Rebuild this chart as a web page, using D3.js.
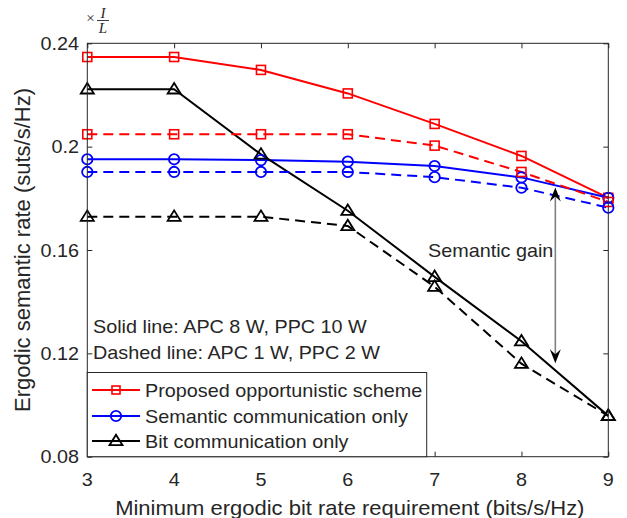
<!DOCTYPE html>
<html><head><meta charset="utf-8">
<script src="https://cdn.jsdelivr.net/npm/d3@7"></script>
<style>body{margin:0;background:#fff}</style>
</head><body><svg id="c" width="627" height="518"></svg>
<script>
// ---- data ----
const xValues = [3, 4, 5, 6, 7, 8, 9];
const proposedSolid  = [0.2347, 0.2347, 0.2297, 0.2206, 0.2088, 0.1964, 0.1802];
const proposedDashed = [0.2048, 0.2048, 0.2048, 0.2048, 0.2004, 0.1902, 0.1786];
const semanticSolid  = [0.1951, 0.1951, 0.1948, 0.1942, 0.1925, 0.1881, 0.1802];
const semanticDashed = [0.1902, 0.1902, 0.1902, 0.1902, 0.1882, 0.1841, 0.1764];
const bitSolid       = [0.2222, 0.2222, 0.1970, 0.1752, 0.1496, 0.1247, 0.0958];
const bitDashed      = [0.1729, 0.1729, 0.1729, 0.1693, 0.1458, 0.1160, 0.0958];
const xTicks = [3, 4, 5, 6, 7, 8, 9];
const yTicks = [0.08, 0.12, 0.16, 0.2, 0.24];
const yTickLabels = ["0.08", "0.12", "0.16", "0.2", "0.24"];
const legendLabels = ["Proposed opportunistic scheme", "Semantic communication only", "Bit communication only"];
const noteLines = ["Solid line: APC 8 W, PPC 10 W", "Dashed line: APC 1 W, PPC 2 W"];
const gainLabel = "Semantic gain";
const gainX = 8.39, gainTop = 0.1842, gainBottom = 0.1162;
const xLabel = "Minimum ergodic bit rate requirement (bits/s/Hz)";
const yLabel = "Ergodic semantic rate (suts/s/Hz)";

// ---- layout ----
const L = 87.3, R = 608.3, T = 43.3, B = 456.7;
const svg = d3.select("#c");
const x = d3.scaleLinear().domain([3, 9]).range([L, R]);
const y = d3.scaleLinear().domain([0.08, 0.24]).range([B, T]);
const FONT = "'Liberation Sans', Arial, Helvetica, sans-serif";
const TXT = "#262626";
const SX = 1.1;

function addText(g, px, py, str, size, anchor) {
  return g.append("text")
    .attr("transform", `translate(${px},${py}) scale(${SX},1)`)
    .attr("font-family", FONT).attr("font-size", size)
    .attr("fill", TXT).attr("text-anchor", anchor || "start")
    .text(str);
}

const series = [
  {vals: proposedSolid,  color: "#ff0000", marker: "square",   dash: null},
  {vals: semanticSolid,  color: "#0000ff", marker: "circle",   dash: null},
  {vals: bitSolid,       color: "#000000", marker: "triangle", dash: null},
  {vals: proposedDashed, color: "#ff0000", marker: "square",   dash: "10,6"},
  {vals: semanticDashed, color: "#0000ff", marker: "circle",   dash: "10,6"},
  {vals: bitDashed,      color: "#000000", marker: "triangle", dash: "10,6"},
];

function drawMarker(g, type, cx, cy, color) {
  if (type === "square") {
    g.append("rect").attr("x", cx - 4.5).attr("y", cy - 4.5).attr("width", 9).attr("height", 9)
      .attr("fill", "none").attr("stroke", color).attr("stroke-width", 1.6);
  } else if (type === "circle") {
    g.append("circle").attr("cx", cx).attr("cy", cy).attr("r", 5.2)
      .attr("fill", "none").attr("stroke", color).attr("stroke-width", 1.8);
  } else {
    const h = 10.5, w = 13;
    g.append("path")
      .attr("d", `M${cx},${cy - h * 0.6}L${cx + w / 2},${cy + h * 0.4}L${cx - w / 2},${cy + h * 0.4}Z`)
      .attr("fill", "none").attr("stroke", color).attr("stroke-width", 1.8).attr("stroke-linejoin", "miter");
  }
}

// ---- axes background & ticks ----
const axG = svg.append("g");
axG.append("rect").attr("x", L).attr("y", T).attr("width", R - L).attr("height", B - T)
  .attr("fill", "#fff").attr("stroke", "none");

const xAxisB = d3.axisBottom(x).tickValues(xTicks).tickSize(-5).tickFormat("");
const xAxisT = d3.axisTop(x).tickValues(xTicks).tickSize(-5).tickFormat("");
const yAxisL = d3.axisLeft(y).tickValues(yTicks).tickSize(-5).tickFormat("");
const yAxisR = d3.axisRight(y).tickValues(yTicks).tickSize(-5).tickFormat("");
[[xAxisB, `translate(0,${B})`], [xAxisT, `translate(0,${T})`], [yAxisL, `translate(${L},0)`], [yAxisR, `translate(${R},0)`]]
  .forEach(([ax, tr]) => {
    const g = axG.append("g").attr("transform", tr).call(ax);
    g.select(".domain").remove();
    g.selectAll("line").attr("stroke", TXT).attr("stroke-width", 1);
  });

// ---- data lines ----
const plotG = svg.append("g");
const line = d3.line().x((d, i) => x(xValues[i])).y(d => y(d));
series.forEach(s => {
  plotG.append("path").datum(s.vals).attr("d", line)
    .attr("fill", "none").attr("stroke", s.color).attr("stroke-width", 2)
    .attr("stroke-dasharray", s.dash);
});
series.forEach(s => {
  s.vals.forEach((v, i) => drawMarker(plotG, s.marker, x(xValues[i]), y(v), s.color));
});

// axes frame on top
svg.append("rect").attr("x", L).attr("y", T).attr("width", R - L).attr("height", B - T)
  .attr("fill", "none").attr("stroke", TXT).attr("stroke-width", 1);

// ---- tick labels ----
const labG = svg.append("g");
xTicks.forEach(t => addText(labG, x(t), 486, String(t), 18, "middle"));
yTicks.forEach((t, i) => addText(labG, 79, y(t) + 6.5, yTickLabels[i], 18, "end"));

// axis labels
addText(labG, (L + R) / 2 + 2, 515, xLabel, 20, "middle");
labG.append("text")
  .attr("transform", `translate(30,${(T + B) / 2}) rotate(-90)`)
  .attr("font-family", FONT).attr("font-size", 22).attr("fill", TXT)
  .attr("text-anchor", "middle").text(yLabel);

// multiplier x I/L
const mG = svg.append("g").attr("font-family", "'Liberation Serif', 'Times New Roman', serif").attr("fill", TXT);
mG.append("text").attr("x", 90.5).attr("y", 23).attr("font-size", 15).attr("text-anchor", "middle").text("\u00d7");
mG.append("text").attr("x", 103).attr("y", 17.5).attr("font-size", 15).attr("font-style", "italic").attr("text-anchor", "middle").text("I");
mG.append("line").attr("x1", 97).attr("x2", 109).attr("y1", 20.5).attr("y2", 20.5).attr("stroke", TXT).attr("stroke-width", 0.9);
mG.append("text").attr("x", 103).attr("y", 33).attr("font-size", 15).attr("font-style", "italic").attr("text-anchor", "middle").text("L");

// notes
addText(labG, 93, 333, noteLines[0], 18, "start");
addText(labG, 93, 358.5, noteLines[1], 18, "start");

// semantic gain arrow
const arG = svg.append("g");
const ax0 = x(gainX), ayT = y(gainTop), ayB = y(gainBottom);
arG.append("line").attr("x1", ax0).attr("x2", ax0).attr("y1", ayT + 4).attr("y2", ayB - 4)
  .attr("stroke", "#808080").attr("stroke-width", 1.6);
function head(px, py, dir) {
  const hl = 14, hw = 5.5, back = 9;
  arG.append("path")
    .attr("d", `M${px},${py}L${px + hw},${py - dir * hl}L${px},${py - dir * back}L${px - hw},${py - dir * hl}Z`)
    .attr("fill", "#000");
}
head(ax0, ayT, -1);
head(ax0, ayB, 1);
addText(labG, 428, 257, gainLabel, 18, "start");

// ---- legend ----
const lg = svg.append("g");
const lgTop = 372.5, lgRight = 426.7;
lg.append("rect").attr("x", L).attr("y", lgTop).attr("width", lgRight - L).attr("height", B - lgTop)
  .attr("fill", "#fff").attr("stroke", TXT).attr("stroke-width", 1);
const rowsY = [390, 416, 441];
series.slice(0, 3).forEach((s, i) => {
  lg.append("line").attr("x1", 92).attr("x2", 140).attr("y1", rowsY[i]).attr("y2", rowsY[i])
    .attr("stroke", s.color).attr("stroke-width", 2);
  const g = lg.append("g");
  if (s.marker === "square") {
    g.append("rect").attr("x", 116 - 4).attr("y", rowsY[i] - 4).attr("width", 8).attr("height", 8)
      .attr("fill", "none").attr("stroke", s.color).attr("stroke-width", 1.6);
  } else drawMarker(g, s.marker, 116, rowsY[i], s.color);
  addText(lg, 145, rowsY[i] + 6.5, legendLabels[i], 18, "start");
});
</script>
</body></html>
